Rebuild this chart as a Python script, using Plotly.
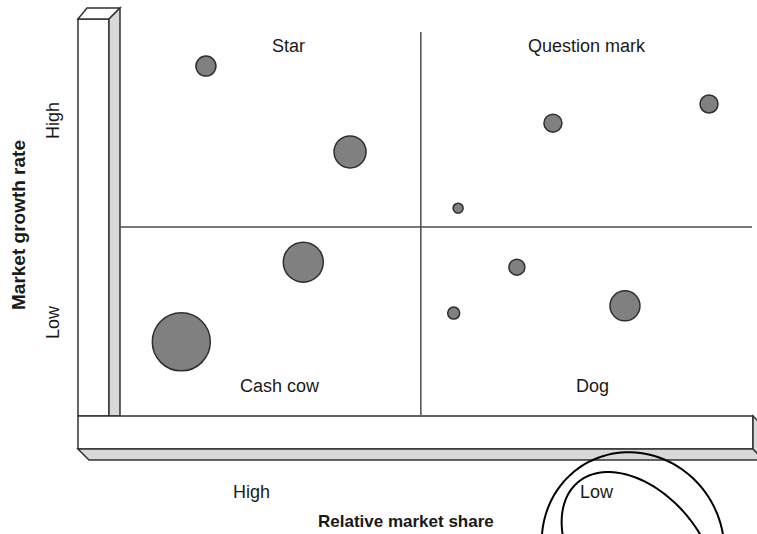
import math
import plotly.graph_objects as go

W, H = 757, 534

# ---- data ----
quadrant_names = ["Star", "Question mark", "Cash cow", "Dog"]
quadrant_label_x = [2.67, 7.39, 2.53, 7.48]
quadrant_label_y = [9.63, 9.63, 0.76, 0.76]
share_ticks = ["High", "Low"]
growth_ticks = ["High", "Low"]
x_title = "Relative market share"
y_title = "Market growth rate"

# bubbles: relative-market-share position (0-10), growth position (0-10), size (px diameter)
bubble_x = [1.36, 3.64, 2.90, 0.97, 6.85, 9.32, 5.35, 6.28, 5.28, 7.99]
bubble_y = [9.11, 6.87, 3.99, 1.91, 7.62, 8.12, 5.40, 3.86, 2.66, 2.85]
bubble_size = [20, 32, 40, 58, 18, 18, 10, 16, 12, 30]

split_x = 4.76
split_y = 4.91

FONT = "Liberation Sans, Arial, sans-serif"
TXT = "#1a1a1a"


def P(x, y):
    return x / W, 1 - y / H


def poly(pts, fill, lw=1.5, color="#333333", layer="below"):
    d = ""
    for i, (x, y) in enumerate(pts):
        px, py = P(x, y)
        d += ("M" if i == 0 else "L") + f"{px:.5f},{py:.5f} "
    d += "Z"
    return dict(type="path", xref="paper", yref="paper", path=d,
                fillcolor=fill, line=dict(color=color, width=lw), layer=layer)


def ellipse(cx, cy, a, b, theta_deg, lw=2):
    th = math.radians(theta_deg)
    d = ""
    n = 120
    for i in range(n + 1):
        t = 2 * math.pi * i / n
        x = cx + a * math.cos(t) * math.cos(th) - b * math.sin(t) * math.sin(th)
        y = cy + a * math.cos(t) * math.sin(th) + b * math.sin(t) * math.cos(th)
        px, py = P(x, y)
        d += ("M" if i == 0 else "L") + f"{px:.5f},{py:.5f} "
    return dict(type="path", xref="paper", yref="paper", path=d,
                line=dict(color="black", width=lw), layer="above")


fig = go.Figure()
fig.add_trace(go.Scatter(
    x=bubble_x, y=bubble_y, mode="markers",
    marker=dict(size=bubble_size, sizemode="diameter", color="#808080",
                line=dict(color="#2e2e2e", width=1.5), opacity=1),
    cliponaxis=False, hoverinfo="skip", showlegend=False))

shapes = []
# vertical pillar
shapes.append(poly([(78, 19), (109, 19), (109, 416), (78, 416)], "white"))
shapes.append(poly([(78, 19), (87, 8), (120, 8), (109, 19)], "white"))
shapes.append(poly([(109, 19), (120, 8), (120, 416), (109, 416)], "#d9d9d9"))
# horizontal bar
shapes.append(poly([(78, 416), (753, 416), (753, 449), (78, 449)], "white"))
shapes.append(poly([(78, 449), (753, 449), (764, 460), (89, 460)], "#d9d9d9"))
shapes.append(poly([(753, 416), (764, 427), (764, 460), (753, 449)], "#d9d9d9"))
# quadrant dividers (data coords)
shapes.append(dict(type="line", xref="x", yref="y", x0=split_x, x1=split_x, y0=0, y1=10,
                   line=dict(color="#4d4d4d", width=1.5), layer="below"))
shapes.append(dict(type="line", xref="x", yref="y", x0=0, x1=10, y0=split_y, y1=split_y,
                   line=dict(color="#4d4d4d", width=1.5), layer="below"))
# hand-drawn ellipses around "Low"
shapes.append(ellipse(633, 546, 95, 90, 60))
shapes.append(ellipse(639, 555, 95, 62, 50))

ann = []
for name, qx, qy in zip(quadrant_names, quadrant_label_x, quadrant_label_y):
    ann.append(dict(text=name, x=qx, y=qy, xref="x", yref="y", showarrow=False,
                    xanchor="center", yanchor="middle",
                    font=dict(family=FONT, size=18, color=TXT)))

for t, xp in zip(share_ticks, [251, 597]):
    px, py = P(xp, 492)
    ann.append(dict(text=t, x=px, y=py, xref="paper", yref="paper", showarrow=False,
                    xanchor="center", yanchor="middle",
                    font=dict(family=FONT, size=18, color=TXT)))
px, py = P(406, 521)
ann.append(dict(text=f"<b>{x_title}</b>", x=px, y=py, xref="paper", yref="paper", showarrow=False,
                xanchor="center", yanchor="middle",
                font=dict(family=FONT, size=17, color=TXT)))
px, py = P(18, 225)
ann.append(dict(text=f"<b>{y_title}</b>", x=px, y=py, xref="paper", yref="paper", showarrow=False,
                xanchor="center", yanchor="middle",
                textangle=-90, font=dict(family=FONT, size=19, color=TXT)))
for t, yp in zip(growth_ticks, [121, 322]):
    px, py = P(53, yp)
    ann.append(dict(text=t, x=px, y=py, xref="paper", yref="paper", showarrow=False,
                    xanchor="center", yanchor="middle",
                    textangle=-90, font=dict(family=FONT, size=18, color=TXT)))

fig.update_layout(
    width=W, height=H,
    margin=dict(l=0, r=0, t=0, b=0),
    paper_bgcolor="white", plot_bgcolor="white",
    xaxis=dict(domain=[120 / W, 752 / W], range=[0, 10], visible=False, fixedrange=True),
    yaxis=dict(domain=[1 - 415 / H, 1 - 32 / H], range=[0, 10], visible=False, fixedrange=True),
    shapes=shapes, annotations=ann, showlegend=False,
)

fig.write_html("out.html", config={"displayModeBar": False},
               post_script="document.body.style.margin='0';document.body.style.overflow='hidden';")
